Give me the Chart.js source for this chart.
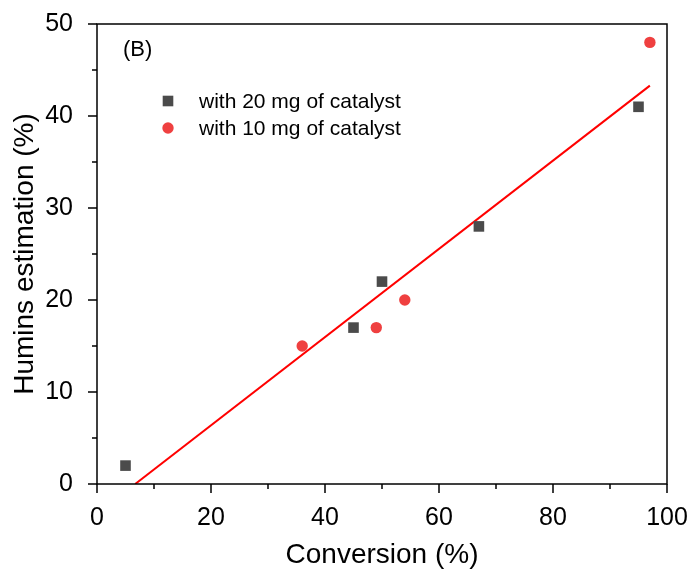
<!DOCTYPE html>
<html>
<head>
<meta charset="utf-8">
<script src="https://cdn.jsdelivr.net/npm/chart.js@4/dist/chart.umd.min.js"></script>
<style>
html,body{margin:0;padding:0;background:#fff;}
#wrap{width:694px;height:572px;}
</style>
</head>
<body>
<div id="wrap"><canvas id="c" width="694" height="572"></canvas></div>
<script>
// Data
const conv20 = [5, 45, 50, 67, 95];
const humins20 = [2, 17, 22, 28, 41];
const conv10 = [36, 49, 54, 97];
const humins10 = [15, 17, 20, 48];
const fitX = [6.7, 97];
const fitY = [0, 43.3];
const xTicks = [0, 20, 40, 60, 80, 100];
const yTicks = [0, 10, 20, 30, 40, 50];
const label20 = 'with 20 mg of catalyst';
const label10 = 'with 10 mg of catalyst';
const panelLabel = '(B)';

const FONT = '"Liberation Sans", Arial, sans-serif';
const toPts = (xs, ys) => xs.map((x, i) => ({x: x, y: ys[i]}));

const framePlugin = {
  id: 'frame',
  afterDatasetsDraw(chart) {
    const {ctx, chartArea: a, scales: {x, y}} = chart;
    ctx.save();
    ctx.strokeStyle = '#000';
    ctx.lineWidth = 1.5;
    ctx.strokeRect(a.left, a.top, a.right - a.left, a.bottom - a.top);
    ctx.beginPath();
    for (let v = 0; v <= 100; v += 10) {
      const px = x.getPixelForValue(v);
      const len = (v % 20 === 0) ? 9 : 5;
      ctx.moveTo(px, a.bottom); ctx.lineTo(px, a.bottom + len);
    }
    for (let v = 0; v <= 50; v += 5) {
      const py = y.getPixelForValue(v);
      const len = (v % 10 === 0) ? 9 : 5;
      ctx.moveTo(a.left, py); ctx.lineTo(a.left - len, py);
    }
    ctx.stroke();
    // panel label
    ctx.fillStyle = '#000';
    ctx.font = '22px ' + FONT;
    ctx.textBaseline = 'middle';
    ctx.textAlign = 'left';
    ctx.fillText(panelLabel, 123, 50);
    // legend
    const ds = chart.data.datasets;
    const rows = [{d: ds[0], y: 101}, {d: ds[1], y: 128}];
    ctx.font = '21px ' + FONT;
    rows.forEach(r => {
      ctx.fillStyle = r.d.backgroundColor;
      if (r.d.pointStyle === 'rect') {
        ctx.fillRect(168 - 5.3, r.y - 5.3, 10.6, 10.6);
      } else {
        ctx.beginPath(); ctx.arc(168, r.y, 5.7, 0, Math.PI * 2); ctx.fill();
      }
      ctx.fillStyle = '#000';
      ctx.fillText(r.d.label, 199, r.y + 1);
    });
    ctx.restore();
  }
};

new Chart(document.getElementById('c'), {
  type: 'scatter',
  data: {
    datasets: [
      {label: label20, data: toPts(conv20, humins20), pointStyle: 'rect', pointRadius: 7.5,
       backgroundColor: '#4b4b4b', borderColor: '#4b4b4b', borderWidth: 0, order: 1},
      {label: label10, data: toPts(conv10, humins10), pointStyle: 'circle', pointRadius: 5.7,
       backgroundColor: '#ef4040', borderColor: '#ef4040', borderWidth: 0, order: 1},
      {type: 'line', label: 'fit', data: toPts(fitX, fitY), borderColor: '#ff0000', borderWidth: 2,
       pointRadius: 0, fill: false, order: 2}
    ]
  },
  options: {
    responsive: false,
    animation: false,
    layout: {padding: {left: 0, right: 27, top: 24, bottom: 0}},
    plugins: {legend: {display: false}, tooltip: {enabled: false}},
    scales: {
      x: {
        type: 'linear', min: 0, max: 100,
        afterBuildTicks: s => { s.ticks = xTicks.map(v => ({value: v})); },
        afterFit: s => { s.height = 88; s.paddingLeft = 0; s.paddingRight = 0; },
        grid: {display: false},
        border: {display: false},
        ticks: {color: '#000', font: {family: FONT, size: 25}, padding: 11, maxRotation: 0},
        title: {display: true, text: 'Conversion (%)', color: '#000',
                font: {family: FONT, size: 28, lineHeight: 1.2}, padding: {top: 0, bottom: 0}}
      },
      y: {
        type: 'linear', min: 0, max: 50,
        afterBuildTicks: s => { s.ticks = yTicks.map(v => ({value: v})); },
        afterFit: s => { s.width = 97; s.paddingTop = 0; s.paddingBottom = 0; },
        grid: {display: false},
        border: {display: false},
        ticks: {color: '#000', font: {family: FONT, size: 25}, padding: 16},
        title: {display: true, text: 'Humins estimation (%)', color: '#000',
                font: {family: FONT, size: 28, lineHeight: 1.2}, padding: {top: 8, bottom: 0}}
      }
    }
  },
  plugins: [framePlugin]
});
</script>
</body>
</html>
